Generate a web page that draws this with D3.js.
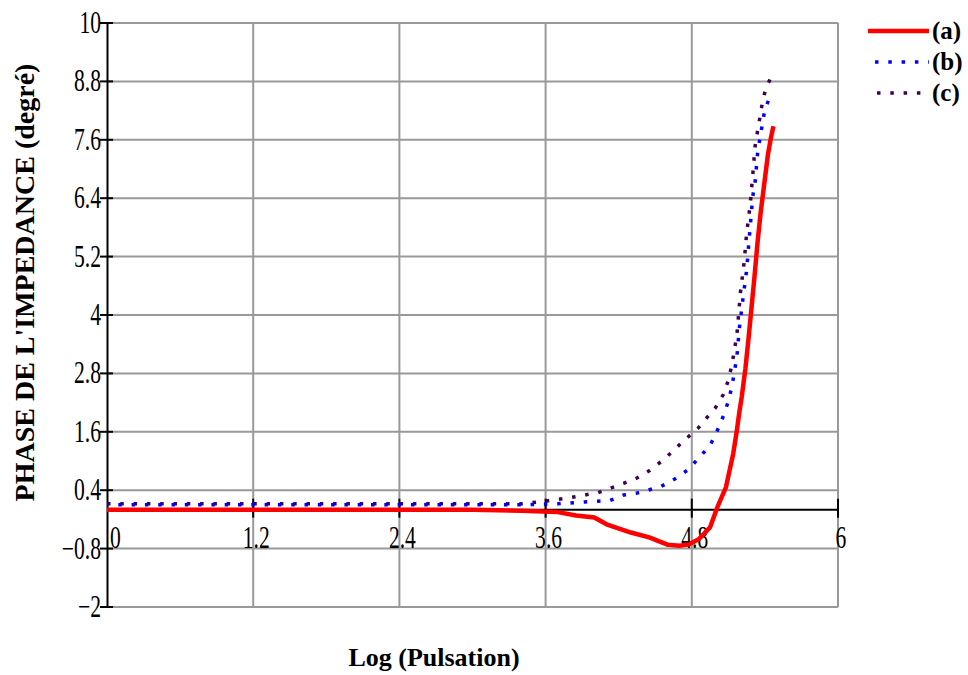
<!DOCTYPE html>
<html>
<head>
<meta charset="utf-8">
<script src="https://cdn.jsdelivr.net/npm/d3@7"></script>
<style>
  body { margin: 0; background: #fff; }
  svg { display: block; }
</style>
</head>
<body>
<div id="chart"></div>
<script>
// axis ticks
const xTicks = [0, 1.2, 2.4, 3.6, 4.8, 6];
const yTicks = [-2, -0.8, 0.4, 1.6, 2.8, 4, 5.2, 6.4, 7.6, 8.8, 10];

// (a) solid red
const aX = [0, 3.0, 3.4, 3.7, 3.85, 4.0, 4.1, 4.3, 4.45, 4.6, 4.7, 4.78, 4.86, 4.95, 5.01, 5.08, 5.14, 5.17, 5.19, 5.21, 5.24, 5.265, 5.29, 5.315, 5.34, 5.365, 5.385, 5.405, 5.425, 5.45, 5.47];
const aY = [0, 0, -0.02, -0.05, -0.12, -0.16, -0.3, -0.47, -0.57, -0.72, -0.74, -0.71, -0.6, -0.36, 0.05, 0.46, 1.15, 1.63, 2.0, 2.32, 2.9, 3.5, 4.15, 4.8, 5.5, 6.1, 6.5, 6.9, 7.3, 7.65, 7.88];

// (b) dotted blue
const bX = [0, 3.4, 3.7, 3.92, 4.13, 4.24, 4.35, 4.44, 4.55, 4.66, 4.77, 4.86, 4.95, 5.01, 5.06, 5.10, 5.13, 5.17, 5.19, 5.22, 5.25, 5.27, 5.30, 5.32, 5.34, 5.36, 5.40, 5.45];
const bY = [0.1, 0.1, 0.12, 0.16, 0.19, 0.3, 0.34, 0.4, 0.48, 0.63, 0.82, 1.07, 1.32, 1.63, 1.93, 2.23, 2.54, 3.14, 3.72, 4.34, 4.92, 5.54, 6.43, 6.74, 7.33, 7.64, 8.23, 8.53];

// (c) dotted purple
const cX = [0, 3.4, 3.61, 3.81, 3.92, 4.03, 4.13, 4.24, 4.35, 4.45, 4.55, 4.64, 4.74, 4.85, 4.92, 4.99, 5.06, 5.10, 5.13, 5.17, 5.20, 5.23, 5.25, 5.28, 5.29, 5.30, 5.32, 5.34, 5.36, 5.38, 5.41, 5.45];
const cY = [0.12, 0.12, 0.18, 0.25, 0.3, 0.35, 0.44, 0.54, 0.65, 0.8, 0.99, 1.19, 1.43, 1.67, 1.88, 2.08, 2.37, 2.66, 2.98, 3.59, 4.48, 5.09, 5.68, 6.28, 6.58, 6.87, 7.48, 7.78, 8.07, 8.38, 8.68, 8.88];

const legendLabels = ["(a)", "(b)", "(c)"];

const width = 968, height = 675;
const svg = d3.select("#chart").append("svg")
    .attr("width", width)
    .attr("height", height);

const xScale = d3.scaleLinear().domain([0, 6]).range([107, 838]);
const yScale = d3.scaleLinear().domain([-2, 10]).range([607, 23]);

const gridColor = "#999999";
const serif = "'Liberation Serif', 'Times New Roman', serif";

// grid lines
svg.append("g").selectAll("line.hg")
    .data(yTicks)
    .enter().append("line")
    .attr("x1", xScale(0)).attr("x2", xScale(6))
    .attr("y1", d => yScale(d)).attr("y2", d => yScale(d))
    .style("stroke", gridColor).style("stroke-width", 2);

svg.append("g").selectAll("line.vg")
    .data(xTicks.slice(1))
    .enter().append("line")
    .attr("x1", d => xScale(d)).attr("x2", d => xScale(d))
    .attr("y1", yScale(10)).attr("y2", yScale(-2))
    .style("stroke", gridColor).style("stroke-width", 2);

// y axis (black line at x=0)
const yAxis = d3.axisLeft(yScale).tickValues(yTicks).tickSize(0).tickFormat("");
svg.append("g")
    .attr("transform", `translate(${xScale(0)},0)`)
    .call(yAxis)
    .call(g => g.select(".domain").style("stroke", "#000").style("stroke-width", 2));

// y tick marks crossing the axis
svg.append("g").selectAll("line")
    .data(yTicks)
    .enter().append("line")
    .attr("x1", xScale(0) - 7).attr("x2", xScale(0) + 6)
    .attr("y1", d => yScale(d)).attr("y2", d => yScale(d))
    .style("stroke", "#000").style("stroke-width", 2);

// x axis at y=0
svg.append("line")
    .attr("x1", xScale(0)).attr("x2", xScale(6))
    .attr("y1", yScale(0)).attr("y2", yScale(0))
    .style("stroke", "#000").style("stroke-width", 2);

svg.append("g").selectAll("line")
    .data(xTicks.slice(1))
    .enter().append("line")
    .attr("x1", d => xScale(d)).attr("x2", d => xScale(d))
    .attr("y1", yScale(0) - 11).attr("y2", yScale(0) + 8)
    .style("stroke", "#000").style("stroke-width", 2);

// helper for stretched tick text
function stretchedText(x, y, str, anchor) {
    const g = svg.append("g").attr("transform", `translate(${x},${y}) scale(0.9,1.3)`);
    g.append("text")
        .attr("text-anchor", anchor)
        .style("font-family", serif)
        .style("font-size", "24px")
        .style("fill", "#000")
        .text(str);
}

yTicks.forEach(d => {
    stretchedText(xScale(0) - 6, yScale(d) + 10, String(d).replace("-", "\u2212"), "end");
});

xTicks.forEach(d => {
    if (d === 0) stretchedText(xScale(d) + 3, yScale(0) + 38, String(d), "start");
    else stretchedText(xScale(d) + 3, yScale(0) + 38, String(d), "middle");
});

// series
const line = d3.line()
    .x(d => xScale(d[0]))
    .y(d => yScale(d[1]));

const seriesC = d3.zip(cX, cY);
const seriesB = d3.zip(bX, bY);
const seriesA = d3.zip(aX, aY);

svg.append("path")
    .attr("d", line(seriesC))
    .style("fill", "none")
    .style("stroke", "#400050")
    .style("stroke-width", 3.5)
    .style("stroke-dasharray", "3.5,9.8");

svg.append("path")
    .attr("d", line(seriesB))
    .style("fill", "none")
    .style("stroke", "#0000ff")
    .style("stroke-width", 3.5)
    .style("stroke-dasharray", "3.5,9.8")
    .style("stroke-dashoffset", 2);

svg.append("path")
    .attr("d", line(seriesA))
    .style("fill", "none")
    .style("stroke", "#ff0000")
    .style("stroke-width", 4.5)
    .style("stroke-linejoin", "round");

// axis titles
svg.append("text")
    .attr("transform", `translate(34,${(60 + 505) / 2}) rotate(-90)`)
    .attr("text-anchor", "middle")
    .style("font-family", serif)
    .style("font-weight", "bold")
    .style("font-size", "28px")
    .text("PHASE DE L'IMPEDANCE (degré)");

svg.append("text")
    .attr("x", 434)
    .attr("y", 666)
    .attr("text-anchor", "middle")
    .style("font-family", serif)
    .style("font-weight", "bold")
    .style("font-size", "26px")
    .text("Log (Pulsation)");

// legend
const legendY = [31, 62, 93];
const legendStyles = [
    { color: "#ff0000", dash: null, width: 4.5, x1: 868 },
    { color: "#0000ff", dash: "3.5,9.8", width: 3.5, x1: 875 },
    { color: "#400050", dash: "3.5,9.8", width: 3.5, x1: 877 }
];

legendLabels.forEach((label, i) => {
    const s = legendStyles[i];
    const l = svg.append("line")
        .attr("x1", s.x1).attr("x2", 929)
        .attr("y1", legendY[i]).attr("y2", legendY[i])
        .style("stroke", s.color)
        .style("stroke-width", s.width);
    if (s.dash) l.style("stroke-dasharray", s.dash);
    svg.append("text")
        .attr("x", 932)
        .attr("y", legendY[i] + 8)
        .style("font-family", serif)
        .style("font-weight", "bold")
        .style("font-size", "25px")
        .text(label);
});
</script>
</body>
</html>
